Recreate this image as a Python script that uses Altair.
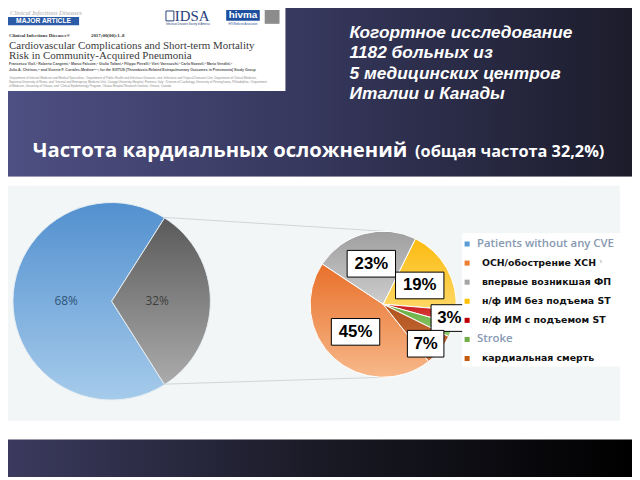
import math
import altair as alt
import pandas as pd

# ---------------- data ----------------
overall_cats = ["Patients without any CVE", "Patients with CVE"]
overall_vals = [68, 32]
overall_labels = ["68%", "32%"]

cve_cats = ["ОСН/обострение ХСН", "впервые возникшая ФП", "н/ф ИМ без подъема ST",
            "н/ф ИМ с подъемом ST", "Stroke", "кардиальная смерть"]
cve_vals = [45, 23, 19, 3, 3, 7]
cve_labels = ["45%", "23%", "19%", "3%", "", "7%"]

legend_cats = [overall_cats[0]] + cve_cats

info_lines = ["Когортное исследование", "1182 больных из", "5 медицинских центров", "Италии и Канады"]
title_main = "Частота кардиальных осложнений"
title_sub = "(общая частота 32,2%)"

journal = "Clinical Infectious Diseases"
article_title = ["Cardiovascular Complications and Short-term Mortality",
                 "Risk in Community-Acquired Pneumonia"]
authors = ["Francesco Violi,¹ Roberto Cangemi,¹ Marco Falcone,¹ Giulio Taliani,² Filippo Pieralli,³ Vieri Vannucchi,³ Carlo Nozzoli,³ Mario Venditti,¹",
           "Julio A. Chirinos,⁴ and Vicente F. Corrales-Medina⁵⁶⁷; for the SIXTUS (Thrombosis-Related Extrapulmonary Outcomes in Pneumonia) Study Group"]
affils = ["¹Department of Internal Medicine and Medical Specialties, ²Department of Public Health and Infectious Diseases, and ³Infectious and Tropical Diseases Unit, Department of Clinical Medicine,",
          "Sapienza University of Rome, and ⁴Internal and Emergency Medicine Unit, Careggi University Hospital, Florence, Italy; ⁵Division of Cardiology, University of Pennsylvania, Philadelphia; ⁶Department",
          "of Medicine, University of Ottawa, and ⁷Clinical Epidemiology Program, Ottawa Hospital Research Institute, Ontario, Canada"]

# ------------- layout / style -------------
OFF = 8
W, H = 632, 472


def p(v):
    return v - OFF


def grad(c1, c2, x2=0, y2=1, mid=None):
    stops = [{"offset": 0, "color": c1}]
    if mid:
        stops.append({"offset": 0.5, "color": mid})
    stops.append({"offset": 1, "color": c2})
    return {"gradient": "linear", "x1": 0, "y1": 0, "x2": x2, "y2": y2, "stops": stops}


one = alt.Data(values=[{"a": 1}])


def rect(x1, y1, x2, y2, fill, stroke=None, sw=1):
    kw = dict(color=fill)
    if stroke:
        kw.update(stroke=stroke, strokeWidth=sw)
    return alt.Chart(one).mark_rect(**kw).encode(
        x=alt.value(p(x1)), x2=alt.value(p(x2)), y=alt.value(p(y1)), y2=alt.value(p(y2)))


def text(t, x, y, size, color, font="Liberation Sans", weight="normal", style="normal", align="left"):
    return alt.Chart(alt.Data(values=[{"t": t}])).mark_text(
        align=align, baseline="middle", fontSize=size, font=font, fontWeight=weight,
        fontStyle=style, color=color).encode(x=alt.value(p(x)), y=alt.value(p(y)), text="t:N")


layers = []

# slide background
layers.append(rect(0, 0, 640, 176, grad("#4f5084", "#1c1c2b", x2=1, y2=0, mid="#35375c")))
layers.append(rect(0, 176, 640, 442, "#ffffff"))
layers.append(rect(0, 442, 640, 480, grad("#3c3b60", "#000000", x2=1, y2=0, mid="#1a1a26")))
layers.append(rect(8, 185, 628, 423, "#f2f6f7"))

# article header box
layers.append(rect(0, 0, 289, 89, "#ffffff"))
layers.append(text(journal, 10, 10, 6.5, "#a8a8a8", font="Liberation Serif", style="italic"))
layers.append(rect(8, 14, 80, 22.5, "#2b5aa6"))
layers.append(text("MAJOR ARTICLE", 44, 18.3, 6.8, "#ffffff", weight="bold", align="center"))
layers.append(rect(168, 8, 176, 18, "#ffffff", stroke="#24407a", sw=1))
layers.append(text("IDSA", 177, 13, 15, "#24407a", font="Liberation Serif"))
layers.append(text("Infectious Diseases Society of America", 168, 21.5, 2.6, "#24407a"))
layers.append(rect(229, 7, 263, 18, "#1d4f9e"))
layers.append(text("hivma", 246, 12.3, 10, "#ffffff", weight="bold", align="center"))
layers.append(text("HIV Medicine Association", 246, 21.5, 2.6, "#1d4f9e", align="center"))
layers.append(rect(268, 7, 283, 21, "#8c8c8c"))
layers.append(text(journal + "®", 9, 32, 5, "#333333", font="Liberation Serif", weight="bold"))
layers.append(text("2017;00(00):1–8", 92, 32, 5, "#333333", font="Liberation Serif", weight="bold"))
for i, t in enumerate(article_title):
    layers.append(text(t, 9, 43 + 10.6 * i, 11.1, "#3a3a3a", font="Liberation Serif"))
for i, t in enumerate(authors):
    layers.append(text(t, 9, 62 + 5.5 * i, 3.6, "#555555", weight="bold"))
for i, t in enumerate(affils):
    layers.append(text(t, 9, 76 + 4 * i, 3.0, "#8a8a8a"))

# info lines (top right)
for i, t in enumerate(info_lines):
    layers.append(text(t, 354, 30 + 20.7 * i, 17.5, "#ffffff", weight="bold", style="italic"))

# title
layers.append(text(title_main, 33, 150, 20.5, "#ffffff", font="Open Sans", weight="bold"))
layers.append(text(title_sub, 612, 151, 16.5, "#ffffff", font="Open Sans", weight="bold", align="right"))

# connector lines
P1 = (113, 302, 100, 147.6)
P2 = (388, 305, 74, 141.5)
for (xa, ya, xb, yb) in [(165, 217, 388, 231), (165, 386, 388, 379)]:
    layers.append(alt.Chart(one).mark_rule(color="#cfd4d8", strokeWidth=1).encode(
        x=alt.value(p(xa)), y=alt.value(p(ya)), x2=alt.value(p(xb)), y2=alt.value(p(yb))))


def pie(cats, vals, geom, colors, stroke, labels=None, label_colors=None, label_r=None):
    cx, cy, r, start_deg = geom
    df = pd.DataFrame({"cat": cats, "value": vals, "idx": list(range(len(cats)))})
    if labels is not None:
        df["label"] = labels
    start = math.radians(start_deg)
    theta = alt.Theta("value:Q", stack=True, scale=alt.Scale(range=[start, start + 2 * math.pi]))
    conds = [{"test": f"datum.idx === {i}", "value": c} for i, c in enumerate(colors) if i > 0]
    base = alt.Chart(df).encode(theta=theta, order=alt.Order("idx:Q"),
                                x=alt.value(p(cx)), y=alt.value(p(cy)))
    arc = base.mark_arc(radius=r, stroke=stroke, strokeWidth=1).encode(
        color=alt.ColorValue(value=colors[0], condition=conds))
    parts = [arc]
    if labels is not None:
        lconds = [{"test": f"datum.idx === {i}", "value": c} for i, c in enumerate(label_colors) if i > 0]
        parts.append(base.mark_text(radius=label_r, fontSize=12, font="Open Sans").encode(
            text="label:N", color=alt.ColorValue(value=label_colors[0], condition=lconds)))
    return alt.layer(*parts)


overall_colors = [grad("#5290cf", "#a6cbeb"), grad("#5a5a5a", "#ababab")]
cve_colors = [grad("#e8702a", "#f7b88a"), grad("#9f9f9f", "#cdcdcd"), grad("#fbbb10", "#ffd866"),
              grad("#c81d1d", "#e24a4a"), grad("#63aa40", "#92cd6e"), grad("#b0501a", "#cb7643")]

layers.append(pie(overall_cats, overall_vals, P1, overall_colors, "#e6edf1",
                  labels=overall_labels, label_colors=["#2f5477", "#3d3d3d"], label_r=46))
layers.append(pie(cve_cats, cve_vals, P2, cve_colors, "#ffffff"))

# percentage boxes on the second pie
LABEL_CENTERS = [(360, 333), (376, 264), (425, 286), (455, 319), None, (431, 345)]
rows = []
for lab, c in zip(cve_labels, LABEL_CENTERS):
    if lab and c:
        w = 12 * len(lab) + 13
        rows.append({"text": lab, "cx": p(c[0]), "cy": p(c[1]),
                     "x0": p(c[0] - w / 2), "x1": p(c[0] + w / 2),
                     "y0": p(c[1] - 13.5), "y1": p(c[1] + 13.5)})
lab_df = pd.DataFrame(rows)
layers.append(alt.Chart(lab_df).mark_rect(color="#ffffff", stroke="#000000", strokeWidth=1).encode(
    x=alt.X("x0:Q", scale=None, axis=None), x2="x1:Q",
    y=alt.Y("y0:Q", scale=None, axis=None), y2="y1:Q"))
layers.append(alt.Chart(lab_df).mark_text(fontSize=17, font="Liberation Sans", fontWeight="bold",
                                          color="#000000", baseline="middle").encode(
    x=alt.X("cx:Q", scale=None, axis=None), y=alt.Y("cy:Q", scale=None, axis=None), text="text:N"))

# legend
layers.append(rect(468, 233, 628, 368, "#ffffff"))
leg_df = pd.DataFrame({"cat": legend_cats})
legend_colors = ["#5b9bd5", "#ed7d31", "#a5a5a5", "#ffc000", "#c00000", "#70ad47", "#c55a11"]
ly = alt.Y("cat:N", scale=alt.Scale(domain=legend_cats, range=[p(244), p(360)], padding=0), axis=None)
layers.append(alt.Chart(leg_df).mark_square(size=26, opacity=1).encode(
    x=alt.value(p(473)), y=ly,
    color=alt.Color("cat:N", scale=alt.Scale(domain=legend_cats, range=legend_colors), legend=None)))
layers.append(alt.Chart(leg_df).transform_filter("test(/^[A-Za-z]/, datum.cat)").mark_text(
    align="left", baseline="middle", fontSize=11.5, font="Open Sans", fontWeight=600, color="#8698b2").encode(
    x=alt.value(p(483)), y=ly, text="cat:N"))
layers.append(alt.Chart(leg_df).transform_filter("!test(/^[A-Za-z]/, datum.cat)").mark_text(
    align="left", baseline="middle", fontSize=9.5, font="DejaVu Sans", fontWeight="bold", color="#111111").encode(
    x=alt.value(p(488)), y=ly, text="cat:N"))
layers.append(text("›", 607, 262, 8, "#9a9a9a"))

chart = alt.layer(*layers).properties(
    width=W, height=H, background="#ffffff", padding=0, autosize="none"
).resolve_scale(x="independent", y="independent", theta="independent", color="independent"
).configure_view(stroke=None)

chart.save("out.html", embed_options={"renderer": "svg", "actions": False})
